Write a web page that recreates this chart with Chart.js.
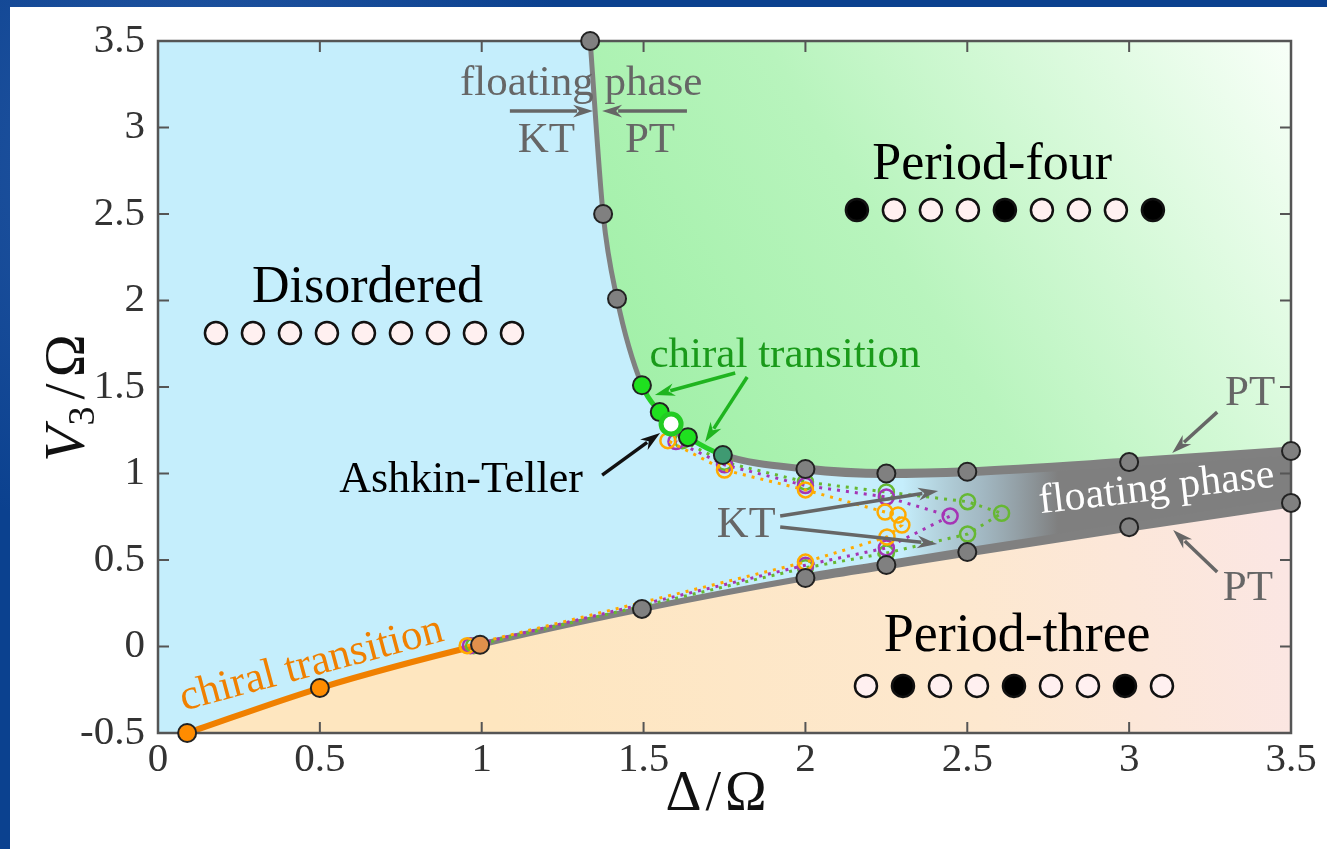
<!DOCTYPE html>
<html>
<head>
<meta charset="utf-8">
<script src="https://cdn.jsdelivr.net/npm/chart.js@4.4.1/dist/chart.umd.min.js"></script>
<style>
  html, body { margin: 0; padding: 0; }
  body {
    width: 1327px; height: 849px; overflow: hidden; position: relative;
    background:
      radial-gradient(circle at 15% 20%, rgba(120,160,230,0.25), transparent 30%),
      radial-gradient(circle at 80% 60%, rgba(20,40,120,0.35), transparent 35%),
      #0b418f;
  }
  .panel { position: absolute; left: 10px; top: 7px; width: 1317px; height: 842px; background: #fff; }
  canvas { position: absolute; left: 0; top: 0; }
</style>
</head>
<body>
<div class="panel"></div>
<canvas id="phase" width="1327" height="849"></canvas>
<script>
// axes
const xTickValues = [0, 0.5, 1, 1.5, 2, 2.5, 3, 3.5];
const xTickLabels = ['0', '0.5', '1', '1.5', '2', '2.5', '3', '3.5'];
const yTickValues = [-0.5, 0, 0.5, 1, 1.5, 2, 2.5, 3, 3.5];
const yTickLabels = ['-0.5', '0', '0.5', '1', '1.5', '2', '2.5', '3', '3.5'];

// upper boundary (disordered / floating -> period-four)
const upperDelta = [1.335, 1.375, 1.418, 1.495, 1.55, 1.585, 1.637, 1.745, 2.0, 2.25, 2.5, 3.0, 3.5];
const upperV3    = [3.5, 2.5, 2.01, 1.51, 1.355, 1.286, 1.21, 1.107, 1.026, 1.0, 1.01, 1.066, 1.13];
const upperKind  = ['pt', 'pt', 'pt', 'chiral', 'chiral', 'at', 'chiral', 'cross', 'pt', 'pt', 'pt', 'pt', 'pt'];

// lower boundary (disordered / floating -> period-three)
const lowerDelta = [0.09, 0.5, 0.995, 1.495, 2.0, 2.25, 2.5, 3.0, 3.5];
const lowerV3    = [-0.5, -0.24, 0.01, 0.217, 0.396, 0.471, 0.546, 0.69, 0.83];
const lowerKind  = ['chiral3', 'chiral3', 'cross3', 'pt', 'pt', 'pt', 'pt', 'pt', 'pt'];

// KT estimates (three system sizes), lower branch -> tip -> upper branch
const orangeDelta = [0.955, 2.0, 2.252, 2.298, 2.286, 2.246, 2.0, 1.75, 1.575];
const orangeV3    = [0.005, 0.488, 0.633, 0.702, 0.76, 0.777, 0.905, 1.02, 1.19];
const purpleDelta = [0.965, 2.0, 2.25, 2.447, 2.25, 2.0, 1.75, 1.6];
const purpleV3    = [0.005, 0.47, 0.57, 0.754, 0.864, 0.93, 1.05, 1.185];
const greenDelta  = [0.975, 2.0, 2.25, 2.501, 2.606, 2.501, 2.25, 2.0, 1.75, 1.62];
const greenV3     = [0.005, 0.455, 0.54, 0.65, 0.77, 0.837, 0.893, 0.951, 1.065, 1.19];

// atom chains drawn under the phase names (1 = excited atom)
const chainDisordered = [0, 0, 0, 0, 0, 0, 0, 0, 0];
const chainPeriod4    = [1, 0, 0, 0, 1, 0, 0, 0, 1];
const chainPeriod3    = [0, 1, 0, 0, 1, 0, 0, 1, 0];

const SERIF = '"Liberation Serif", "DejaVu Serif", serif';
const markerFill = { pt: '#808080', chiral: '#1fe01f', at: '#ffffff', cross: '#3f9a72', chiral3: '#ff8c00', cross3: '#e0904c' };

const pts = (xs, ys) => xs.map((x, i) => ({ x: x, y: ys[i] }));
const pick = (xs, ys, kinds, test) => xs.map((x, i) => ({ x: x, y: ys[i], k: kinds[i] })).filter(p => test(p.k));

function p4Fill(c) {
  const a = c.chart.chartArea;
  if (!a) return 'rgba(0,0,0,0)';
  const w = a.right - a.left, h = a.bottom - a.top;
  const g = c.chart.ctx.createLinearGradient(a.left + 0.39 * w, a.top + 0.62 * h, a.right, a.top);
  g.addColorStop(0, '#9cefa3');
  g.addColorStop(0.45, '#b8f4bd');
  g.addColorStop(1, '#f8fff8');
  return g;
}
function p3Fill(c) {
  const a = c.chart.chartArea;
  if (!a) return 'rgba(0,0,0,0)';
  const w = a.right - a.left, h = a.bottom - a.top;
  const g = c.chart.ctx.createLinearGradient(a.left + 0.3 * w, a.bottom, a.right, a.top + 0.8 * h);
  g.addColorStop(0, '#fee6bf');
  g.addColorStop(0.6, '#fde8cf');
  g.addColorStop(1, '#fbe6e3');
  return g;
}
function floatFill(c) {
  const ch = c.chart;
  if (!ch.chartArea) return 'rgba(0,0,0,0)';
  const x = ch.scales.x;
  const g = ch.ctx.createLinearGradient(x.getPixelForValue(2.3), 0, x.getPixelForValue(2.78), 0);
  g.addColorStop(0, 'rgba(128,128,128,0)');
  g.addColorStop(0.5, 'rgba(140,150,158,0.6)');
  g.addColorStop(1, 'rgba(127,127,127,1)');
  return g;
}

function drawArrow(ctx, x1, y1, x2, y2, color, width, head) {
  const ang = Math.atan2(y2 - y1, x2 - x1);
  const bx = x2 - Math.cos(ang) * head * 0.8, by = y2 - Math.sin(ang) * head * 0.8;
  ctx.save();
  ctx.strokeStyle = color; ctx.fillStyle = color; ctx.lineWidth = width;
  ctx.beginPath(); ctx.moveTo(x1, y1); ctx.lineTo(bx, by); ctx.stroke();
  ctx.beginPath();
  ctx.moveTo(x2, y2);
  ctx.lineTo(x2 - Math.cos(ang) * head + Math.sin(ang) * head * 0.32, y2 - Math.sin(ang) * head - Math.cos(ang) * head * 0.32);
  ctx.lineTo(x2 - Math.cos(ang) * head * 0.7, y2 - Math.sin(ang) * head * 0.7);
  ctx.lineTo(x2 - Math.cos(ang) * head - Math.sin(ang) * head * 0.32, y2 - Math.sin(ang) * head + Math.cos(ang) * head * 0.32);
  ctx.closePath(); ctx.fill();
  ctx.restore();
}

function drawFrame(chart) {
  const { ctx, chartArea: a, scales: { x, y } } = chart;
  ctx.save();
  ctx.strokeStyle = '#555'; ctx.lineWidth = 2.5;
  ctx.strokeRect(a.left, a.top, a.right - a.left, a.bottom - a.top);
  ctx.lineWidth = 2;
  ctx.beginPath();
  xTickValues.forEach(v => {
    const p = x.getPixelForValue(v);
    ctx.moveTo(p, a.bottom); ctx.lineTo(p, a.bottom - 11);
    ctx.moveTo(p, a.top); ctx.lineTo(p, a.top + 11);
  });
  yTickValues.forEach(v => {
    const p = y.getPixelForValue(v);
    ctx.moveTo(a.left, p); ctx.lineTo(a.left + 11, p);
    ctx.moveTo(a.right, p); ctx.lineTo(a.right - 11, p);
  });
  ctx.stroke();
  ctx.restore();
}

// text notes in data coordinates (x, y = baseline centre)
const notes = [
  { text: 'Disordered', x: 0.647, y: 1.991, size: 52, color: '#000' },
  { text: 'Period-four', x: 2.577, y: 2.702, size: 52, color: '#000' },
  { text: 'Period-three', x: 2.654, y: -0.026, size: 54, color: '#000' },
  { text: 'floating phase', x: 1.307, y: 3.188, size: 43, color: '#666' },
  { text: 'KT', x: 1.2, y: 2.858, size: 43, color: '#666' },
  { text: 'PT', x: 1.52, y: 2.858, size: 43, color: '#666' },
  { text: 'chiral transition', x: 1.937, y: 1.616, size: 43, color: '#1a9a1a' },
  { text: 'Ashkin-Teller', x: 0.936, y: 0.893, size: 44, color: '#000' },
  { text: 'PT', x: 3.374, y: 1.396, size: 43, color: '#666' },
  { text: 'PT', x: 3.367, y: 0.269, size: 43, color: '#666' },
  { text: 'KT', x: 1.817, y: 0.633, size: 44, color: '#666' },
  { text: 'floating phase', x: 3.089, y: 0.847, size: 42, color: '#fff', angle: -6.5 },
  { text: 'chiral transition', x: 0.4835, y: -0.168, size: 43, color: '#f08000', angle: -15 }
];
const arrows = [
  { from: [1.087, 3.095], to: [1.344, 3.095], color: '#666' },
  { from: [1.634, 3.095], to: [1.372, 3.095], color: '#666' },
  { from: [1.783, 1.581], to: [1.535, 1.454], color: '#1fb41f' },
  { from: [1.82, 1.558], to: [1.69, 1.182], color: '#1fb41f' },
  { from: [1.372, 0.991], to: [1.551, 1.234], color: '#111' },
  { from: [3.272, 1.355], to: [3.133, 1.118], color: '#666' },
  { from: [3.272, 0.431], to: [3.136, 0.673], color: '#666' },
  { from: [1.922, 0.754], to: [2.41, 0.899], color: '#666' },
  { from: [1.922, 0.691], to: [2.407, 0.592], color: '#666' }
];
const chains = [
  { atoms: chainDisordered, x0: 0.179, y: 1.812 },
  { atoms: chainPeriod4, x0: 2.159, y: 2.523 },
  { atoms: chainPeriod3, x0: 2.187, y: -0.228 }
];

function drawNotes(chart) {
  const { ctx, scales: { x, y } } = chart;
  arrows.forEach(a => drawArrow(ctx, x.getPixelForValue(a.from[0]), y.getPixelForValue(a.from[1]),
    x.getPixelForValue(a.to[0]), y.getPixelForValue(a.to[1]), a.color, 3.5, 20));
  chains.forEach(c => {
    c.atoms.forEach((on, i) => {
      ctx.save();
      ctx.beginPath();
      ctx.arc(x.getPixelForValue(c.x0 + i * 0.1143), y.getPixelForValue(c.y), 11, 0, Math.PI * 2);
      ctx.fillStyle = on ? '#000' : '#fff0f0';
      ctx.fill();
      ctx.lineWidth = 2.5; ctx.strokeStyle = '#111'; ctx.stroke();
      ctx.restore();
    });
  });
  notes.forEach(n => {
    ctx.save();
    ctx.translate(x.getPixelForValue(n.x), y.getPixelForValue(n.y));
    if (n.angle) ctx.rotate(n.angle * Math.PI / 180);
    ctx.font = n.size + 'px ' + SERIF;
    ctx.fillStyle = n.color;
    ctx.textAlign = 'center';
    ctx.textBaseline = 'alphabetic';
    ctx.fillText(n.text, 0, 0);
    ctx.restore();
  });
}

// draws pieces left to right around a centre, each piece {t, font, dy, gap}
function drawRun(ctx, parts) {
  const widths = parts.map(p => { ctx.font = p.font; return ctx.measureText(p.t).width + (p.gap || 0) * 2; });
  let cx = -widths.reduce((s, w) => s + w, 0) / 2;
  parts.forEach((p, i) => {
    ctx.font = p.font;
    ctx.fillText(p.t, cx + (p.gap || 0), p.dy || 0);
    cx += widths[i];
  });
}

function drawTitles(chart) {
  const ctx = chart.ctx;
  ctx.fillStyle = '#111';
  // x title: Delta/Omega
  ctx.save();
  ctx.translate(716, 810);
  drawRun(ctx, [
    { t: '\u0394', font: '56px ' + SERIF },
    { t: '/', font: '56px ' + SERIF, gap: 4 },
    { t: '\u03A9', font: '56px ' + SERIF }
  ]);
  ctx.restore();
  // y title: V_3/Omega, rotated
  ctx.save();
  ctx.translate(84, 398);
  ctx.rotate(-Math.PI / 2);
  drawRun(ctx, [
    { t: 'V', font: 'italic 58px ' + SERIF },
    { t: '3', font: '38px ' + SERIF, dy: 10, gap: 1 },
    { t: '/', font: '58px ' + SERIF, gap: 6 },
    { t: '\u03A9', font: '58px ' + SERIF }
  ]);
  ctx.restore();
}

const phaseDecor = {
  id: 'phaseDecor',
  beforeDatasetsDraw(chart) {
    const { ctx, chartArea: a } = chart;
    ctx.save();
    ctx.fillStyle = '#c5eefc';
    ctx.fillRect(a.left, a.top, a.right - a.left, a.bottom - a.top);
    ctx.restore();
  },
  beforeDatasetDraw(chart, args) {
    if (chart.data.datasets[args.index].frameBefore) drawFrame(chart);
  },
  afterDatasetsDraw(chart) {
    drawNotes(chart);
  },
  afterDraw(chart) {
    drawTitles(chart);
  }
};

const curve = { showLine: true, pointRadius: 0, cubicInterpolationMode: 'monotone' };
const dotted = (xs, ys, color) => ({
  data: pts(xs, ys), showLine: true, tension: 0,
  borderColor: color, borderWidth: 3, borderDash: [3, 6],
  pointRadius: 7.5, pointBorderWidth: 2.5, pointBorderColor: color,
  pointBackgroundColor: 'rgba(0,0,0,0)', order: 30, clip: false
});
const markers = (list, order) => ({
  data: list, order: order, clip: false,
  pointRadius: list.map(p => p.k === 'at' ? 10 : 9),
  pointBackgroundColor: list.map(p => markerFill[p.k]),
  pointBorderColor: list.map(p => p.k === 'at' ? '#22cc22' : '#222'),
  pointBorderWidth: list.map(p => p.k === 'at' ? 5 : 2)
});

const lowerMarkers = markers(pick(lowerDelta, lowerV3, lowerKind, k => true), 12);
lowerMarkers.frameBefore = true;

new Chart(document.getElementById('phase'), {
  type: 'scatter',
  data: {
    datasets: [
      Object.assign({ data: pts(upperDelta, upperV3), fill: 'end', backgroundColor: p4Fill, borderWidth: 0, order: 50 }, curve),
      Object.assign({ data: pts(lowerDelta, lowerV3), fill: 'start', backgroundColor: p3Fill, borderWidth: 0, order: 49 }, curve),
      Object.assign({ data: pts(upperDelta, upperV3), fill: 1, backgroundColor: floatFill, borderWidth: 0, order: 48 }, curve),
      Object.assign({
        data: pts(upperDelta, upperV3), fill: false, order: 40, borderColor: '#808080', borderWidth: 5,
        segment: {
          borderColor: c => (c.p0.parsed.x >= 1.49 && c.p0.parsed.x < 1.74) ? '#25cf25' : '#808080',
          borderWidth: c => c.p0.parsed.x >= 1.99 ? 9 : (c.p0.parsed.x >= 1.74 ? 7 : 5)
        }
      }, curve),
      Object.assign({
        data: pts(lowerDelta, lowerV3), fill: false, order: 40, borderColor: '#808080', borderWidth: 6,
        segment: {
          borderColor: c => c.p0.parsed.x < 0.99 ? '#f08000' : '#808080',
          borderWidth: c => c.p0.parsed.x >= 1.99 ? 9 : 6
        }
      }, curve),
      dotted(orangeDelta, orangeV3, '#ffab00'),
      dotted(purpleDelta, purpleV3, '#a534b5'),
      dotted(greenDelta, greenV3, '#66b832'),
      lowerMarkers,
      markers(pick(upperDelta, upperV3, upperKind, k => k !== 'at'), 11),
      markers(pick(upperDelta, upperV3, upperKind, k => k === 'at'), 10)
    ]
  },
  options: {
    responsive: false,
    animation: false,
    devicePixelRatio: 1,
    events: [],
    layout: { padding: { top: 41, right: 36, left: 0, bottom: 0 } },
    plugins: { legend: { display: false }, tooltip: { enabled: false } },
    scales: {
      x: {
        type: 'linear', min: 0, max: 3.5,
        grid: { display: false, drawTicks: false }, border: { display: false },
        afterBuildTicks: s => { s.ticks = xTickValues.map(v => ({ value: v })); },
        afterFit: s => { s.height = 116; },
        ticks: { autoSkip: false, maxRotation: 0, padding: 3, color: '#333',
          font: { family: SERIF, size: 41 }, callback: (v, i) => xTickLabels[i] }
      },
      y: {
        type: 'linear', min: -0.5, max: 3.5,
        grid: { display: false, drawTicks: false }, border: { display: false },
        afterBuildTicks: s => { s.ticks = yTickValues.map(v => ({ value: v })); },
        afterFit: s => { s.width = 158; },
        ticks: { autoSkip: false, padding: 13, color: '#333',
          font: { family: SERIF, size: 41 }, callback: (v, i) => yTickLabels[i] }
      }
    }
  },
  plugins: [phaseDecor]
});
</script>
</body>
</html>
